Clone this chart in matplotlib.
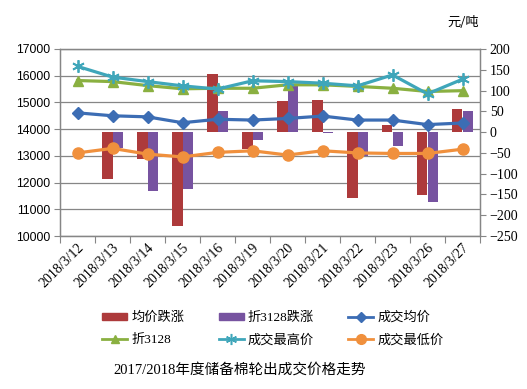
import matplotlib
matplotlib.use("Agg")
import matplotlib.pyplot as plt
from matplotlib.transforms import blended_transform_factory
from matplotlib.lines import Line2D
from matplotlib.patches import Patch

plt.rcParams['font.family'] = ['Liberation Serif', 'Noto Sans CJK SC']

dates = ['2018/3/12', '2018/3/13', '2018/3/14', '2018/3/15', '2018/3/16', '2018/3/19',
         '2018/3/20', '2018/3/21', '2018/3/22', '2018/3/23', '2018/3/26', '2018/3/27']

# 元/吨, 左轴
avg_price = [14610, 14500, 14460, 14240, 14370, 14340, 14400, 14490, 14340, 14340, 14170, 14230]
price_3128 = [15820, 15780, 15630, 15510, 15530, 15530, 15660, 15660, 15600, 15530, 15410, 15440]
high_price = [16350, 15950, 15780, 15620, 15500, 15810, 15780, 15720, 15620, 16030, 15320, 15870]
low_price = [13110, 13280, 13065, 12960, 13130, 13190, 13030, 13190, 13110, 13090, 13090, 13250]

# 涨跌, 右轴
avg_change = [0, -113, -65, -225, 140, -41, 75, 77, -159, 16, -152, 55]
change_3128 = [0, -38, -141, -136, 50, -20, 111, -2, -57, -34, -168, 50]

RED = '#AD3A3B'
PURPLE = '#7753A0'
BLUE = '#3C6DB4'
GREEN = '#8AB041'
TEAL = '#3FA6BA'
ORANGE = '#F0903D'
GRAY = '#868686'
STAR = (6, 2, 0)  # 星号标记

fig = plt.figure(figsize=(5.27, 3.89), dpi=100)
ax_bar = fig.add_axes([60 / 527, 1 - 236 / 389, 420 / 527, 187 / 389])
ax_line = ax_bar.twinx()

x = list(range(len(dates)))
w = 0.286
ax_bar.bar([i - w / 2 for i in x], avg_change, w, color=RED, zorder=2)
ax_bar.bar([i + w / 2 for i in x], change_3128, w, color=PURPLE, zorder=2)
ax_bar.set_ylim(-250, 200)
ax_bar.set_yticks(range(-250, 201, 50))
ax_bar.yaxis.tick_right()
ax_bar.tick_params(axis='y', which='major', direction='out', length=4, color=GRAY,
                   labelsize=10, pad=3)

lw = 2.3
ax_line.plot(x, avg_price, color=BLUE, lw=lw, marker='D', ms=6, zorder=3)
ax_line.plot(x, price_3128, color=GREEN, lw=lw, marker='^', ms=7, zorder=3)
ax_line.plot(x, high_price, color=TEAL, lw=lw, marker=STAR, ms=9, mew=1.3, zorder=4)
ax_line.plot(x, low_price, color=ORANGE, lw=lw, marker='o', ms=8, zorder=3)
ax_line.set_ylim(10000, 17000)
ax_line.set_yticks(range(10000, 17001, 1000))
ax_line.yaxis.tick_left()
ax_line.tick_params(axis='y', direction='out', length=4, color=GRAY, pad=3)
for lab in ax_line.get_yticklabels():
    lab.set_fontfamily('Liberation Sans')
    lab.set_fontsize(8.8)

# 网格线画在柱子后面
tr = blended_transform_factory(ax_bar.transAxes, ax_line.transData)
for v in range(10000, 17001, 1000):
    ax_bar.plot([0, 1], [v, v], transform=tr, color=GRAY, lw=0.9, zorder=0)

ax_bar.set_xlim(-0.5, len(dates) - 0.5)
ax_bar.set_xticks([i - 0.5 for i in range(len(dates) + 1)])
ax_bar.set_xticklabels([])
ax_bar.set_xticks(x, minor=True)
ax_bar.set_xticklabels(dates, minor=True, rotation=45, ha='right', rotation_mode='anchor',
                       fontsize=10)
ax_bar.tick_params(axis='x', which='major', direction='out', length=5, color=GRAY)
ax_bar.tick_params(axis='x', which='minor', length=0, pad=4)

for a in (ax_bar, ax_line):
    for s in a.spines.values():
        s.set_color(GRAY)
        s.set_linewidth(0.9)

fig.text(463 / 527, 1 - 22 / 389, '元/吨', ha='center', va='center', fontsize=9.5,
         family=['Noto Sans CJK SC'])

handles = [
    Patch(color=RED),
    Patch(color=PURPLE),
    Line2D([], [], color=BLUE, lw=2, marker='D', ms=5),
    Line2D([], [], color=GREEN, lw=2, marker='^', ms=6),
    Line2D([], [], color=TEAL, lw=2, marker=STAR, ms=8, mew=1.1),
    Line2D([], [], color=ORANGE, lw=2, marker='o', ms=7),
]
labels = ['均价跌涨', '折3128跌涨', '成交均价', '折3128', '成交最高价', '成交最低价']
order = [0, 3, 1, 4, 2, 5]
fig.legend([handles[i] for i in order], [labels[i] for i in order], ncol=3,
           loc='center', bbox_to_anchor=(273 / 527, 1 - 329 / 389), frameon=False,
           prop={'family': ['Liberation Serif', 'Noto Sans CJK SC'], 'size': 9.5},
           handlelength=1.9, handleheight=0.4, handletextpad=0.3, columnspacing=2.6,
           labelspacing=0.75)

fig.text(240 / 527, 1 - 370 / 389, '2017/2018年度储备棉轮出成交价格走势', ha='center',
         va='center', fontsize=10.5, family=['Liberation Serif', 'Noto Sans CJK SC'])

fig.savefig('out.png', dpi=100)
